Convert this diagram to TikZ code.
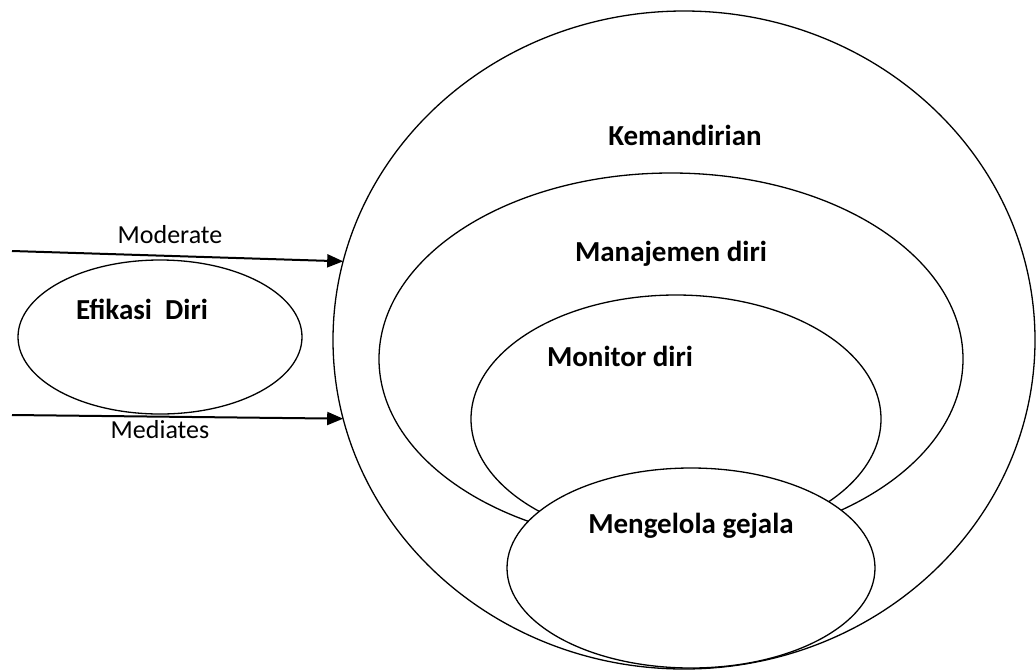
\documentclass[tikz,border=0pt]{standalone}
\usepackage{fontspec}
\setmainfont{Carlito}
\usetikzlibrary{arrows.meta,shapes.geometric}
\begin{document}
\begin{tikzpicture}[x=1pt,y=-1pt,
  ring/.style={draw, ellipse, line width=1.3pt, inner sep=0pt, outer sep=0pt},
  lbl/.style={anchor=base, inner sep=0pt, font=\bfseries\fontsize{29}{34}\selectfont},
  tag/.style={anchor=base, inner sep=0pt, font=\fontsize{26}{31}\selectfont},
  flow/.style={line width=2pt, -{Triangle[length=16pt,width=13pt]}}]
\useasboundingbox (0,0) rectangle (1036,670);

% nested ellipses
\node[ring, minimum width=702pt, minimum height=658pt] (kem) at (684,340) {};
\node[ring, minimum width=584pt, minimum height=372pt] (man) at (671,359) {};
\node[ring, minimum width=410pt, minimum height=248pt] (mon) at (676,419) {};
\node[ring, fill=white, minimum width=368pt, minimum height=200pt] (gej) at (691,568) {};

% outer factor
\node[ring, minimum width=284pt, minimum height=154pt] (efi) at (160,337) {};

% labels
\node[lbl] (tkem) at (685,145) {Kemandirian};
\node[lbl] (tman) at (671,261.5) {Manajemen diri};
\node[lbl] (tmon) at (620,366.5) {Monitor diri};
\node[lbl] (tgej) at (691,533) {Mengelola gejala};
\node[lbl] (tefi) at (142,319) {Efikasi\ \ Diri};

% connectors into the outer ellipse
\coordinate (modStart) at (12,251);
\coordinate (medStart) at (12,415);
\draw[flow] (modStart) -- (kem.167.4);
\draw[flow] (medStart) -- (kem.193.6);
\node[tag] (tmod) at (170,243) {Moderate};
\node[tag] (tmed) at (160,438) {Mediates};
\end{tikzpicture}
\end{document}
